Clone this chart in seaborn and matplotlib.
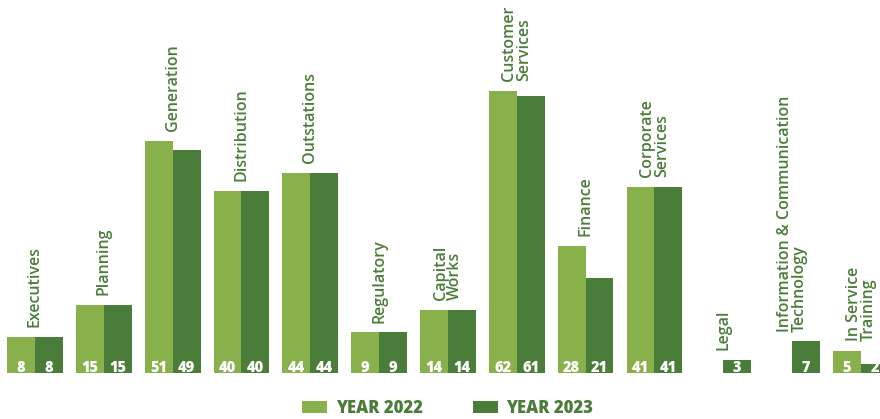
import numpy as np
import pandas as pd
import matplotlib
matplotlib.use("Agg")
import matplotlib.pyplot as plt
from matplotlib.patches import Patch
import seaborn as sns

# Staff numbers per department
departments = [
    "Executives", "Planning", "Generation", "Distribution", "Outstations",
    "Regulatory", "Capital\nWorks", "Customer\nServices", "Finance",
    "Corporate\nServices", "Legal", "Information & Communication\nTechnology",
    "In Service\nTraining",
]
year_2022 = [8, 15, 51, 40, 44, 9, 14, 62, 28, 41, np.nan, np.nan, 5]
year_2023 = [8, 15, 49, 40, 44, 9, 14, 61, 21, 41, 3, 7, 2]
years = ["YEAR 2022", "YEAR 2023"]

LIGHT = "#88B04B"
DARK = "#4A7D3A"

df = pd.DataFrame({
    "department": departments * 2,
    "year": [years[0]] * len(departments) + [years[1]] * len(departments),
    "staff": year_2022 + year_2023,
}).dropna()

sns.set_theme(style="white")
plt.rcParams["font.family"] = ["Open Sans", "DejaVu Sans"]

fig = plt.figure(figsize=(8.8, 4.19), dpi=100)
ax = fig.add_axes([0, 0.109, 1, 0.891])

sns.barplot(
    data=df, x="department", y="staff", hue="year",
    order=departments, hue_order=years,
    palette=[LIGHT, DARK], width=0.81, errorbar=None,
    saturation=1, legend=False, linewidth=0, ax=ax,
)

ax.set_xlim(-0.5085, 12.277)
ax.set_ylim(0, 82.0)
ax.axis("off")

# value labels at the foot of each bar
for container in ax.containers:
    for bar in container:
        h = bar.get_height()
        if np.isnan(h):
            continue
        ax.annotate(
            f"{h:.0f}", (bar.get_x() + bar.get_width() / 2, 0),
            xytext=(0, 1.3), textcoords="offset points",
            ha="center", va="baseline", color="white",
            fontsize=10.5, fontweight="heavy",
        )

# department names above each group
for i, name in enumerate(departments):
    top = np.nanmax([year_2022[i], year_2023[i]])
    ax.annotate(
        name, (i, top), xytext=(0, 7), textcoords="offset points",
        rotation=90, ha="center", va="bottom", multialignment="left",
        color=DARK, fontsize=11.5, fontweight="semibold",
        linespacing=0.9,
    )

handles = [Patch(facecolor=LIGHT, linewidth=0), Patch(facecolor=DARK, linewidth=0)]
leg = fig.legend(
    handles, years, loc="center", bbox_to_anchor=(447.5 / 880, 1 - 408 / 419),
    ncol=2, frameon=False, fontsize=12, handlelength=1.5,
    handleheight=0.75, handletextpad=0.5, columnspacing=3.0,
)
for t in leg.get_texts():
    t.set_color(DARK)
    t.set_fontweight("heavy")

fig.savefig("out.png", dpi=100)
